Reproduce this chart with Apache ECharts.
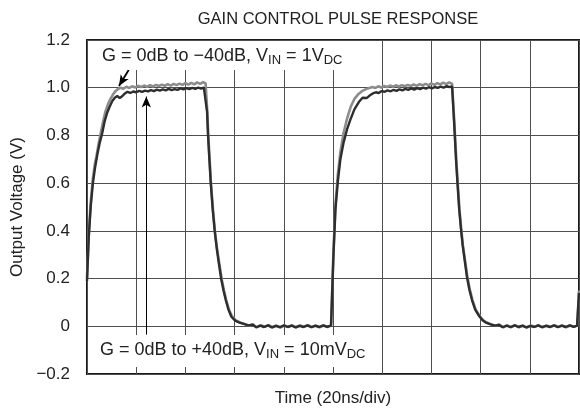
<!DOCTYPE html>
<html>
<head>
<meta charset="utf-8">
<script src="https://cdn.jsdelivr.net/npm/echarts@6/dist/echarts.min.js"></script>
<style>
  html, body { margin: 0; padding: 0; background: #fff; }
  #chart { width: 580px; height: 412px; }
</style>
</head>
<body>
<div id="chart"></div>
<script type="application/javascript">
// time in ns (20ns/div), output in V
const yTickLabels = ['−0.2', '0', '0.2', '0.4', '0.6', '0.8', '1.0', '1.2'];

// G = 0dB to -40dB, VIN = 1VDC (grey trace)
const grayTrace = [
  [0,0.2],[0.7,0.38],[1.5,0.52],[2.4,0.62],[3.2,0.68],[3.8,0.71],[4.8,0.77],[5.6,0.81],[6.6,0.86],[7.5,0.9],
  [8.5,0.93],[9.5,0.952],[10.5,0.97],[11.6,0.986],[12.6,0.994],[13.6,1.0],[14.8,0.996],[16,1.004],[17.2,0.999],
  [18.4,1.006],[19.6,1.001],[20.8,1.008],[22,1.003],[23.2,1.009],[24.4,1.004],[25.6,1.011],[26.8,1.005],[28,1.012],
  [29.2,1.007],[30.4,1.013],[31.6,1.008],[32.8,1.015],[34,1.009],[35.2,1.016],[36.4,1.011],[37.6,1.017],[38.8,1.012],
  [40,1.019],[41.2,1.013],[42.4,1.02],[43.6,1.014],[44.8,1.022],[46,1.016],[47.2,1.023],[48.2,1.018],
  [48.9,0.9],[49.3,0.8],[49.9,0.69],[50.4,0.6],[51.2,0.49],[52,0.4],[52.8,0.33],[53.7,0.27],[54.8,0.195],[55.7,0.15],
  [56.6,0.11],[57.7,0.07],[58.9,0.042],[60.4,0.026],[62.2,0.016],[64,0.009],[65.8,0.002],[67.4,0.008],[69,-0.005],
  [70.6,0.004],[72.2,-0.002],[73.8,0.005],[75.4,-0.004],[77,0.003],[78.6,-0.005],[80.2,0.003],[81.8,-0.002],[83.4,0.004],
  [85,-0.004],[86.6,0.003],[88.2,-0.002],[89.8,0.005],[91.4,-0.003],[93,0.002],[94.6,-0.004],[96.2,0.003],[97.8,-0.003],
  [99.2,0.004],[99.6,0.13],[100.2,0.32],[101,0.51],[102,0.64],[103,0.73],[104.3,0.81],[105.7,0.87],[107.2,0.92],
  [108.7,0.953],[110.5,0.975],[112,0.987],[113.4,0.994],[114.8,0.999],[116,1.003],[117.2,0.999],[118.4,1.006],
  [119.6,1.001],[120.8,1.007],[122,1.003],[123.2,1.009],[124.4,1.004],[125.6,1.01],[126.8,1.005],[128,1.011],
  [129.2,1.006],[130.4,1.012],[131.6,1.007],[132.8,1.014],[134,1.008],[135.2,1.015],[136.4,1.01],[137.6,1.016],
  [138.8,1.011],[140,1.018],[141.2,1.012],[142.4,1.019],[143.6,1.014],[144.8,1.021],[146,1.015],[147.2,1.022],[148.4,1.017],
  [149.3,0.86],[150.1,0.7],[150.7,0.6],[151.4,0.49],[152.1,0.41],[152.8,0.34],[153.6,0.28],[154.6,0.21],[155.6,0.155],
  [156.7,0.11],[158,0.07],[159.6,0.043],[161,0.026],[162.4,0.016],[164.2,0.009],[166,0.002],[167.6,0.007],[169.2,-0.004],
  [170.8,0.004],[172.4,-0.003],[174,0.005],[175.6,-0.004],[177.2,0.002],[178.8,-0.005],[180.4,0.003],[182,-0.002],
  [183.6,0.004],[185.2,-0.004],[186.8,0.003],[188.4,-0.003],[190,0.004],[191.6,-0.002],[193.2,0.003],[194.8,-0.004],
  [196.4,0.003],[198,-0.002],[199.3,0.004],[199.7,0.09],[200,0.15]
];

// G = 0dB to +40dB, VIN = 10mVDC (dark trace)
const darkTrace = [
  [0,0.19],[0.7,0.37],[1.5,0.5],[2.4,0.6],[3.2,0.66],[4.2,0.72],[5.2,0.77],[6.2,0.81],[7.2,0.86],[8.2,0.895],
  [9.2,0.92],[10.3,0.944],[11.3,0.958],[12.3,0.965],[13.3,0.957],[14.3,0.964],[15.3,0.975],[16.4,0.983],[17.6,0.978],
  [18.8,0.984],[20,0.981],[21.2,0.987],[22.4,0.983],[23.6,0.988],[24.8,0.985],[26,0.99],[27.2,0.986],[28.4,0.992],
  [29.6,0.988],[30.8,0.993],[32,0.989],[33.2,0.995],[34.4,0.99],[35.6,0.994],[36.8,0.991],[38,0.997],[39.2,0.993],
  [40.4,0.998],[41.6,0.994],[42.8,0.999],[44,0.995],[45.2,1.0],[46.4,0.996],[47.5,1.001],[48.2,0.998],
  [48.8,0.9],[49.2,0.8],[49.8,0.69],[50.3,0.6],[51.1,0.49],[51.9,0.4],[52.7,0.33],[53.5,0.27],[54.6,0.195],[55.5,0.15],
  [56.4,0.11],[57.5,0.07],[58.7,0.04],[60.2,0.024],[62,0.015],[63.8,0.01],[65.6,0.004],[67.2,0.007],[68.8,-0.004],
  [70.4,0.003],[72,-0.003],[73.6,0.004],[75.2,-0.005],[76.8,0.002],[78.4,-0.004],[80,0.004],[81.6,-0.003],[83.2,0.003],
  [84.8,-0.005],[86.4,0.002],[88,-0.003],[89.6,0.004],[91.2,-0.004],[92.8,0.003],[94.4,-0.003],[96,0.004],[97.6,-0.002],
  [99.2,0.003],[99.6,0.12],[100.2,0.3],[101,0.49],[102,0.61],[103,0.7],[104.3,0.77],[105.7,0.825],[107.2,0.87],
  [108.7,0.909],[110.5,0.94],[112,0.958],[112.8,0.962],[113.8,0.957],[115,0.968],[116.2,0.976],[117.4,0.981],
  [118.6,0.978],[119.8,0.986],[121,0.983],[122.2,0.989],[123.4,0.985],[124.6,0.991],[125.8,0.987],[127,0.993],
  [128.2,0.989],[129.4,0.995],[130.6,0.991],[131.8,0.997],[133,0.992],[134.2,0.998],[135.4,0.994],[136.6,1.0],
  [137.8,0.996],[139,1.002],[140.2,0.997],[141.4,1.003],[142.6,0.999],[143.8,1.005],[145,1.0],[146.2,1.007],[147.4,1.002],[148.4,1.006],
  [149.2,0.86],[150,0.7],[150.6,0.6],[151.3,0.49],[152,0.41],[152.7,0.34],[153.5,0.28],[154.4,0.21],[155.4,0.155],
  [156.5,0.11],[157.8,0.07],[159.4,0.043],[160.8,0.025],[162.2,0.015],[164,0.008],[165.8,0.003],[167.4,0.006],[169,-0.004],
  [170.6,0.003],[172.2,-0.004],[173.8,0.004],[175.4,-0.003],[177,0.003],[178.6,-0.005],[180.2,0.002],[181.8,-0.003],
  [183.4,0.004],[185,-0.004],[186.6,0.002],[188.2,-0.003],[189.8,0.004],[191.4,-0.004],[193,0.003],[194.6,-0.003],
  [196.2,0.004],[197.8,-0.002],[199.2,0.003],[199.6,0.07],[200,0.14]
];

// annotation arrows (time, volts)
const grayArrow = [[17.0, 1.075], [13.0, 1.007]];
const darkArrow = [[24.1, -0.035], [24.1, 0.963]];

const FONT = '"Liberation Sans", Arial, Helvetica, sans-serif';
const GRID_COLOR = '#4e4e4e';

const chart = echarts.init(document.getElementById('chart'));

function arrowLine(pts, width) {
  return {
    silent: true,
    symbol: ['none', 'arrow'],
    symbolSize: [7, 11],
    label: { show: false },
    lineStyle: { color: '#000', width: width, type: 'solid' },
    data: [[{ coord: pts[0] }, { coord: pts[1] }]]
  };
}

const option = {
  animation: false,
  title: {
    text: 'GAIN CONTROL PULSE RESPONSE',
    left: 333,
    top: 6,
    textAlign: 'center',
    textStyle: { fontFamily: FONT, fontSize: 16.5, fontWeight: 'normal', color: '#222' }
  },
  grid: {
    left: 87, right: 1, top: 40, bottom: 38,
    show: true, borderColor: '#1a1a1a', borderWidth: 2, backgroundColor: 'transparent'
  },
  xAxis: [{
    type: 'value', min: 0, max: 200, interval: 20,
    name: 'Time (20ns/div)', nameLocation: 'middle', nameGap: 16,
    nameTextStyle: { fontFamily: FONT, fontSize: 17, color: '#222', verticalAlign: 'top' },
    axisLine: { show: false },
    axisTick: { show: false },
    axisLabel: { show: false },
    splitLine: { show: true, lineStyle: { color: GRID_COLOR, width: 1 } }
  }, {
    // inward ticks drawn over the label boxes
    type: 'value', min: 0, max: 200, interval: 20, zlevel: 1, z: 3, position: 'bottom',
    axisLine: { show: false },
    axisTick: { show: true, inside: true, length: 6, lineStyle: { color: GRID_COLOR, width: 1 } },
    axisLabel: { show: false },
    splitLine: { show: false }
  }],
  yAxis: {
    type: 'value', min: -0.2, max: 1.2, interval: 0.2,
    name: 'Output Voltage (V)', nameLocation: 'middle', nameGap: 60,
    nameTextStyle: { fontFamily: FONT, fontSize: 17, color: '#222' },
    axisLine: { show: false },
    axisTick: { show: false },
    axisLabel: {
      margin: 17, fontFamily: FONT, fontSize: 17, color: '#222',
      formatter: v => yTickLabels[Math.round((v + 0.2) / 0.2)]
    },
    splitLine: { show: true, lineStyle: { color: GRID_COLOR, width: 1 } }
  },
  series: [{
    name: 'G = 0dB to −40dB', type: 'line', data: grayTrace, z: 4,
    showSymbol: false, symbol: 'none',
    lineStyle: { color: '#8c8c8c', width: 2.6 },
    markLine: arrowLine(grayArrow, 1.8)
  }, {
    name: 'G = 0dB to +40dB', type: 'line', data: darkTrace, z: 5,
    showSymbol: false, symbol: 'none',
    lineStyle: { color: '#2e2e2e', width: 2.4 },
    markLine: arrowLine(darkArrow, 1)
  }],
  graphic: [
    { type: 'rect', zlevel: 1, z: 1, shape: { x: 88, y: 41, width: 272, height: 29 }, style: { fill: '#fff' } },
    { type: 'rect', zlevel: 1, z: 1, shape: { x: 88, y: 335, width: 292, height: 32 }, style: { fill: '#fff' } },
    {
      type: 'text', zlevel: 1, z: 6, x: 102, y: 56,
      style: {
        text: '{a|G = 0dB to −40dB, V}{s|IN}{a| = 1V}{s|DC}',
        verticalAlign: 'middle',
        rich: {
          a: { fontFamily: FONT, fontSize: 18, fill: '#222', lineHeight: 22 },
          s: { fontFamily: FONT, fontSize: 13, fill: '#222', lineHeight: 13, verticalAlign: 'bottom' }
        }
      }
    },
    {
      type: 'text', zlevel: 1, z: 6, x: 100, y: 350,
      style: {
        text: '{a|G = 0dB to +40dB, V}{s|IN}{a| = 10mV}{s|DC}',
        verticalAlign: 'middle',
        rich: {
          a: { fontFamily: FONT, fontSize: 18, fill: '#222', lineHeight: 22 },
          s: { fontFamily: FONT, fontSize: 13, fill: '#222', lineHeight: 13, verticalAlign: 'bottom' }
        }
      }
    }
  ]
};

chart.setOption(option);
</script>
</body>
</html>
